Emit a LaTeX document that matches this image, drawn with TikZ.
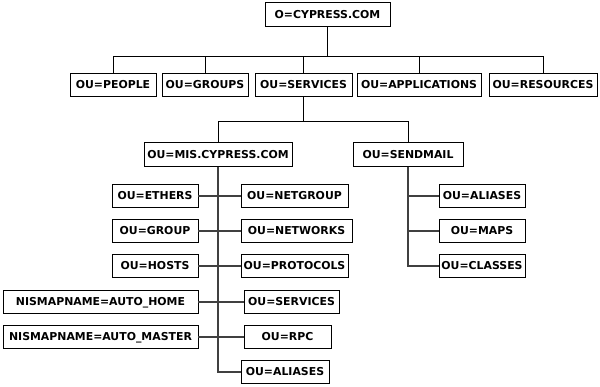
\documentclass[tikz,border=0pt]{standalone}
\usepackage{fontspec}
\setmainfont{DejaVu Sans}

\begin{document}
\begin{tikzpicture}[x=1pt,y=-1pt]
\tikzset{box/.style = {shape=rectangle,draw,line width=0.9pt,inner sep=0pt,
  minimum height=23.5pt,text height=7.9pt,text depth=0pt,
  font=\fontsize{10.9}{12}\selectfont\bfseries}}
\tikzset{edge/.style = {draw=black,line width=1pt}}
\tikzset{twig/.style = {draw=black!75,line width=1.2pt}}

\useasboundingbox (0,0) rectangle (600,386);

\node[box, minimum width=125pt] (root) at (327.5,14.5) {O=CYPRESS.COM};

\node[box, minimum width=86pt ] (people)   at (113,85)   {OU=PEOPLE};
\node[box, minimum width=86pt ] (groups)   at (205,85)   {OU=GROUPS};
\node[box, minimum width=97pt ] (services) at (303.5,85) {OU=SERVICES};
\node[box, minimum width=124pt] (apps)     at (419,85)   {OU=APPLICATIONS};
\node[box, minimum width=108pt] (res)      at (543,85)   {OU=RESOURCES};

\node[box, minimum width=148pt] (mis)      at (218,154.5) {OU=MIS.CYPRESS.COM};
\node[box, minimum width=110pt] (sendmail) at (408,154.5) {OU=SENDMAIL};

\node[box, minimum width=86pt ] (ethers) at (155,196)   {OU=ETHERS};
\node[box, minimum width=86pt ] (group)  at (155,231)   {OU=GROUP};
\node[box, minimum width=86pt ] (hosts)  at (155,266)   {OU=HOSTS};
\node[box, minimum width=195pt] (home)   at (100.5,302) {NISMAPNAME=AUTO\_HOME};
\node[box, minimum width=195pt] (master) at (100.5,337) {NISMAPNAME=AUTO\_MASTER};

\node[box, minimum width=107pt] (netgroup)  at (294.5,196) {OU=NETGROUP};
\node[box, minimum width=111pt] (networks)  at (296.5,231) {OU=NETWORKS};
\node[box, minimum width=107pt] (protocols) at (294.5,266) {OU=PROTOCOLS};
\node[box, minimum width=95pt ] (svc)       at (291.5,302) {OU=SERVICES};
\node[box, minimum width=87pt ] (rpc)       at (287.5,337) {OU=RPC};
\node[box, minimum width=88pt ] (alias)     at (285,372)   {OU=ALIASES};

\node[box, minimum width=86pt ] (salias)  at (482,196) {OU=ALIASES};
\node[box, minimum width=86pt ] (maps)    at (482,231) {OU=MAPS};
\node[box, minimum width=86pt ] (classes) at (482,266) {OU=CLASSES};

\coordinate (topbus) at (327.5,56);
\coordinate (midbus) at (303.5,121);

\draw[edge] (root) -- (topbus);
\foreach \n in {people,groups,services,apps,res}
  \draw[edge] (topbus) -| (\n);

\draw[edge] (services) -- (midbus);
\draw[edge] (midbus) -| (mis);
\draw[edge] (midbus) -| (sendmail);

\draw[twig] (mis) |- (alias);
\draw[twig] (ethers) -- (netgroup);
\draw[twig] (group)  -- (networks);
\draw[twig] (hosts)  -- (protocols);
\draw[twig] (home)   -- (svc);
\draw[twig] (master) -- (rpc);

\foreach \n in {salias,maps,classes}
  \draw[twig] (sendmail) |- (\n);
\end{tikzpicture}
\end{document}
